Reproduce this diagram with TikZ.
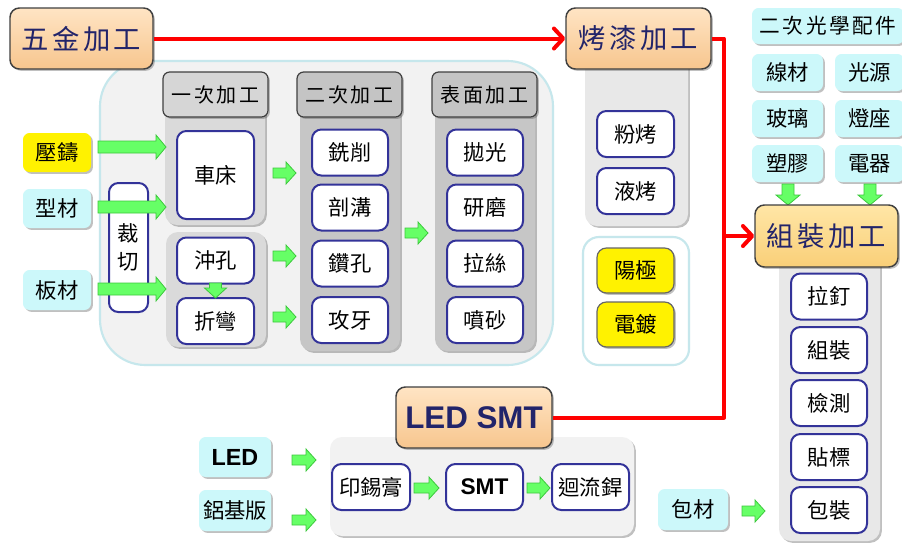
\documentclass[tikz,border=0pt]{standalone}
\usepackage{fontspec}
\setmainfont{Liberation Sans}
\newfontfamily\cjk{Noto Sans CJK TC}
\newfontfamily\cjksp{Noto Sans CJK TC}[LetterSpace=12]
\usetikzlibrary{shadows,arrows.meta}
\definecolor{navy}{HTML}{22246A}
\definecolor{peachT}{HTML}{FFE4C4}
\definecolor{peachB}{HTML}{F7C68E}
\definecolor{goldT}{HTML}{FFE6A6}
\definecolor{goldB}{HTML}{F9CF78}
\definecolor{hdrA}{HTML}{D6D6D6}
\definecolor{hdrB}{HTML}{C4C4C4}
\definecolor{colA}{HTML}{DADADA}
\definecolor{colB}{HTML}{C6C6C6}
\definecolor{colC}{HTML}{E8E8E8}
\definecolor{panel}{HTML}{F2F2F2}
\definecolor{panelrim}{HTML}{C6E7EC}
\definecolor{boxblue}{HTML}{333399}
\definecolor{incyan}{HTML}{CCF8FA}
\definecolor{garrfill}{HTML}{66FF66}
\definecolor{garrline}{HTML}{3CC83C}
\newcommand\garr[6]{%
  \draw[garrow, shift={(#1,#2)}, rotate=#4]
    (0,-#5) -- ({#3-10},-#5) -- ({#3-10},-#6) -- (#3,0) -- ({#3-10},#6) -- ({#3-10},#5) -- (0,#5) -- cycle;}
\tikzset{
  wh/.style 2 args={minimum width=#1*0.75pt, minimum height=#2*0.75pt, inner sep=0pt},
  shad/.style={drop shadow={shadow xshift=1.4pt, shadow yshift=-1.4pt, opacity=0.35, fill=black!70}},
  title/.style={rounded corners=7pt, draw=black!75, line width=1.1pt, top color=peachT, bottom color=peachB,
    text=navy, font=\cjksp\fontsize{20.5}{22}\selectfont, shad},
  gtitle/.style={title, top color=goldT, bottom color=goldB},
  hdr/.style={rounded corners=5pt, draw=black!75, line width=0.9pt, fill=hdrA,
    font=\cjksp\fontsize{15}{17}\selectfont, shad},
  sbox/.style={rounded corners=7pt, draw=boxblue, line width=1.5pt, fill=white,
    font=\cjk\fontsize{16}{18}\selectfont},
  inbox/.style={rounded corners=5pt, fill=incyan, font=\cjk\fontsize{16}{18}\selectfont, shad},
  ybox/.style={rounded corners=5pt, fill=yellow, font=\cjk\fontsize{16}{18}\selectfont, shad},
  pbox/.style={rounded corners=7pt, draw=black!60, line width=0.9pt, fill=yellow, font=\cjk\fontsize{16}{18}\selectfont, shad},
  garrow/.style={fill=garrfill, draw=garrline, line width=0.6pt},
  redline/.style={draw=red, line width=3pt, line join=round, -{Straight Barb[length=7pt,width=15pt,line cap=round,line join=round]}},
  colbg/.style={rounded corners=9pt, shad}
}
\begin{document}
\begin{tikzpicture}[x=0.75pt,y=-0.75pt]
\useasboundingbox[fill=white] (0,0) rectangle (902,544);

% ---------- big metal panel ----------
\path[fill=panel, draw=panelrim, line width=1.6pt, rounded corners=34pt] (100,61) rectangle (553,365);

% column backgrounds
\path[colbg, fill=colA] (165,100) rectangle (265,225);
\path[colbg, fill=colA] (166,232) rectangle (266,347);
\path[colbg, fill=colB] (300,100) rectangle (400,351);
\path[colbg, fill=colB] (435,100) rectangle (535,351);

% headers
\node[hdr, wh={105}{45}] (h1) at (215.5,94.5) {一次加工};
\node[hdr, wh={105}{45}, fill=hdrB] (h2) at (349.5,94.5) {二次加工};
\node[hdr, wh={105}{45}, fill=hdrB] (h3) at (484.5,94.5) {表面加工};

% first column
\node[sbox, wh={77}{88}] (chechuang) at (215.5,175) {車床};
\node[sbox, wh={77}{46}] (chongkong) at (215.5,260.5) {沖孔};
\node[sbox, wh={77}{46}] (zhewan) at (215.5,321) {折彎};
\node[sbox, wh={39}{129}, align=center, font=\cjk\fontsize{16}{21}\selectfont] (caiqie) at (128.5,247.5) {裁\\切};

% second column
\node[sbox, wh={76}{46}] (xiaoxue) at (350,152.5) {銑削};
\node[sbox, wh={76}{46}] (pougou) at (350,207.5) {剖溝};
\node[sbox, wh={76}{46}] (zuankong) at (350,263.5) {鑽孔};
\node[sbox, wh={76}{46}] (gongya) at (350,320) {攻牙};

% third column
\node[sbox, wh={76}{46}] (paoguang) at (485,152.5) {拋光};
\node[sbox, wh={76}{46}] (yanmo) at (485,207.5) {研磨};
\node[sbox, wh={76}{46}] (lasi) at (485,263.5) {拉絲};
\node[sbox, wh={76}{46}] (pensha) at (485,320) {噴砂};

% inputs
\node[ybox, wh={68}{39}] (yazhu) at (57,152.5) {壓鑄};
\node[inbox, wh={68}{39}] (xingcai) at (57,208.5) {型材};
\node[inbox, wh={68}{40}] (bancai) at (57,290) {板材};

% green arrows metal
\garr{98}{147}{68}{0}{6}{12}
\garr{98}{207}{68}{0}{6}{12}
\garr{98}{289}{68}{0}{6}{12}
\garr{273}{173}{23}{0}{5}{11}
\garr{273}{256}{23}{0}{5}{11}
\garr{273}{317}{23}{0}{5}{11}
\garr{405}{233}{23}{0}{5}{11}
\garr{215.5}{283}{15}{-90}{6}{11}

% ---------- paint ----------
\path[colbg, fill=colC] (585,50) rectangle (688,226);
\node[sbox, wh={77}{46}] (fenkao) at (635.5,134) {粉烤};
\node[sbox, wh={77}{46}] (yekao) at (635.5,191) {液烤};

\path[fill=white, draw=panelrim, line width=1.6pt, rounded corners=12pt] (583,237) rectangle (689,365);
\node[pbox, wh={77}{45}] (yangji) at (635.5,270.5) {陽極};
\node[pbox, wh={77}{45}] (diandu) at (635.5,324.5) {電鍍};

% ---------- assembly ----------
\path[colbg, fill=colC] (779,250) rectangle (880,541);
\node[sbox, wh={76}{46}] (lading) at (829,296.5) {拉釘};
\node[sbox, wh={76}{46}] (zuzhuangb) at (829,350) {組裝};
\node[sbox, wh={76}{46}] (jiance) at (829,403) {檢測};
\node[sbox, wh={76}{46}] (tiebiao) at (829,457) {貼標};
\node[sbox, wh={76}{46}] (baozhuang) at (829,510) {包裝};

\node[inbox, wh={152}{36}, font=\cjksp\fontsize{15.5}{17}\selectfont] (optics) at (828,26) {二次光學配件};
\node[inbox, wh={71}{37}] (xiancai) at (787.5,72.5) {線材};
\node[inbox, wh={69}{37}] (guangyuan) at (869.5,72.5) {光源};
\node[inbox, wh={71}{37}] (boli) at (787.5,118.5) {玻璃};
\node[inbox, wh={69}{37}] (dengzuo) at (869.5,118.5) {燈座};
\node[inbox, wh={71}{37}] (sujiao) at (787.5,163.5) {塑膠};
\node[inbox, wh={69}{37}] (dianqi) at (869.5,163.5) {電器};
\garr{788}{184}{21}{-90}{6}{12}
\garr{870}{184}{21}{-90}{6}{12}

\node[inbox, wh={70}{41}] (baocai) at (693,509.5) {包材};
\garr{742}{511}{23}{0}{5}{11}

% ---------- LED SMT ----------
\path[colbg, fill=panel] (330,437) rectangle (634,536);
\node[sbox, wh={78}{46}] (yinxigao) at (371,487) {印錫膏};
\node[sbox, wh={77}{46}, font=\bfseries\fontsize{17}{19}\selectfont] (smt) at (484.5,487) {SMT};
\node[sbox, wh={77}{46}] (huiliu) at (590.5,487) {迴流銲};
\node[inbox, wh={72}{40}, font=\bfseries\fontsize{17.5}{19}\selectfont] (led) at (235,457) {LED};
\node[inbox, wh={72}{41}] (lvjiban) at (235,510.5) {鋁基版};
\garr{292}{460}{24}{0}{5}{11}
\garr{292}{520}{24}{0}{5}{11}
\garr{414}{488}{25}{0}{5}{11}
\garr{527}{488}{23}{0}{5}{11}

% ---------- titles ----------
\node[title, wh={143}{61}] (wujin) at (81.5,38.5) {五金加工};
\node[title, wh={145}{61}] (kaoqi) at (638.5,38.5) {烤漆加工};
\node[gtitle, wh={143}{62}] (zuzhuang) at (826.5,236) {組裝加工};
\node[title, wh={156}{61}, font=\bfseries\fontsize{23.5}{25}\selectfont] (ledsmt) at (474,417.5) {LED SMT};

% ---------- red flow ----------
\coordinate (rx) at (724,0);
\draw[redline] (wujin.east) -- (kaoqi.west);
\draw[redline] (kaoqi.east) -| (rx |- zuzhuang.west) -- (zuzhuang.west);
\draw[draw=red, line width=3pt, line join=round] (ledsmt.east) -| (rx |- zuzhuang.west);
\end{tikzpicture}
\end{document}
